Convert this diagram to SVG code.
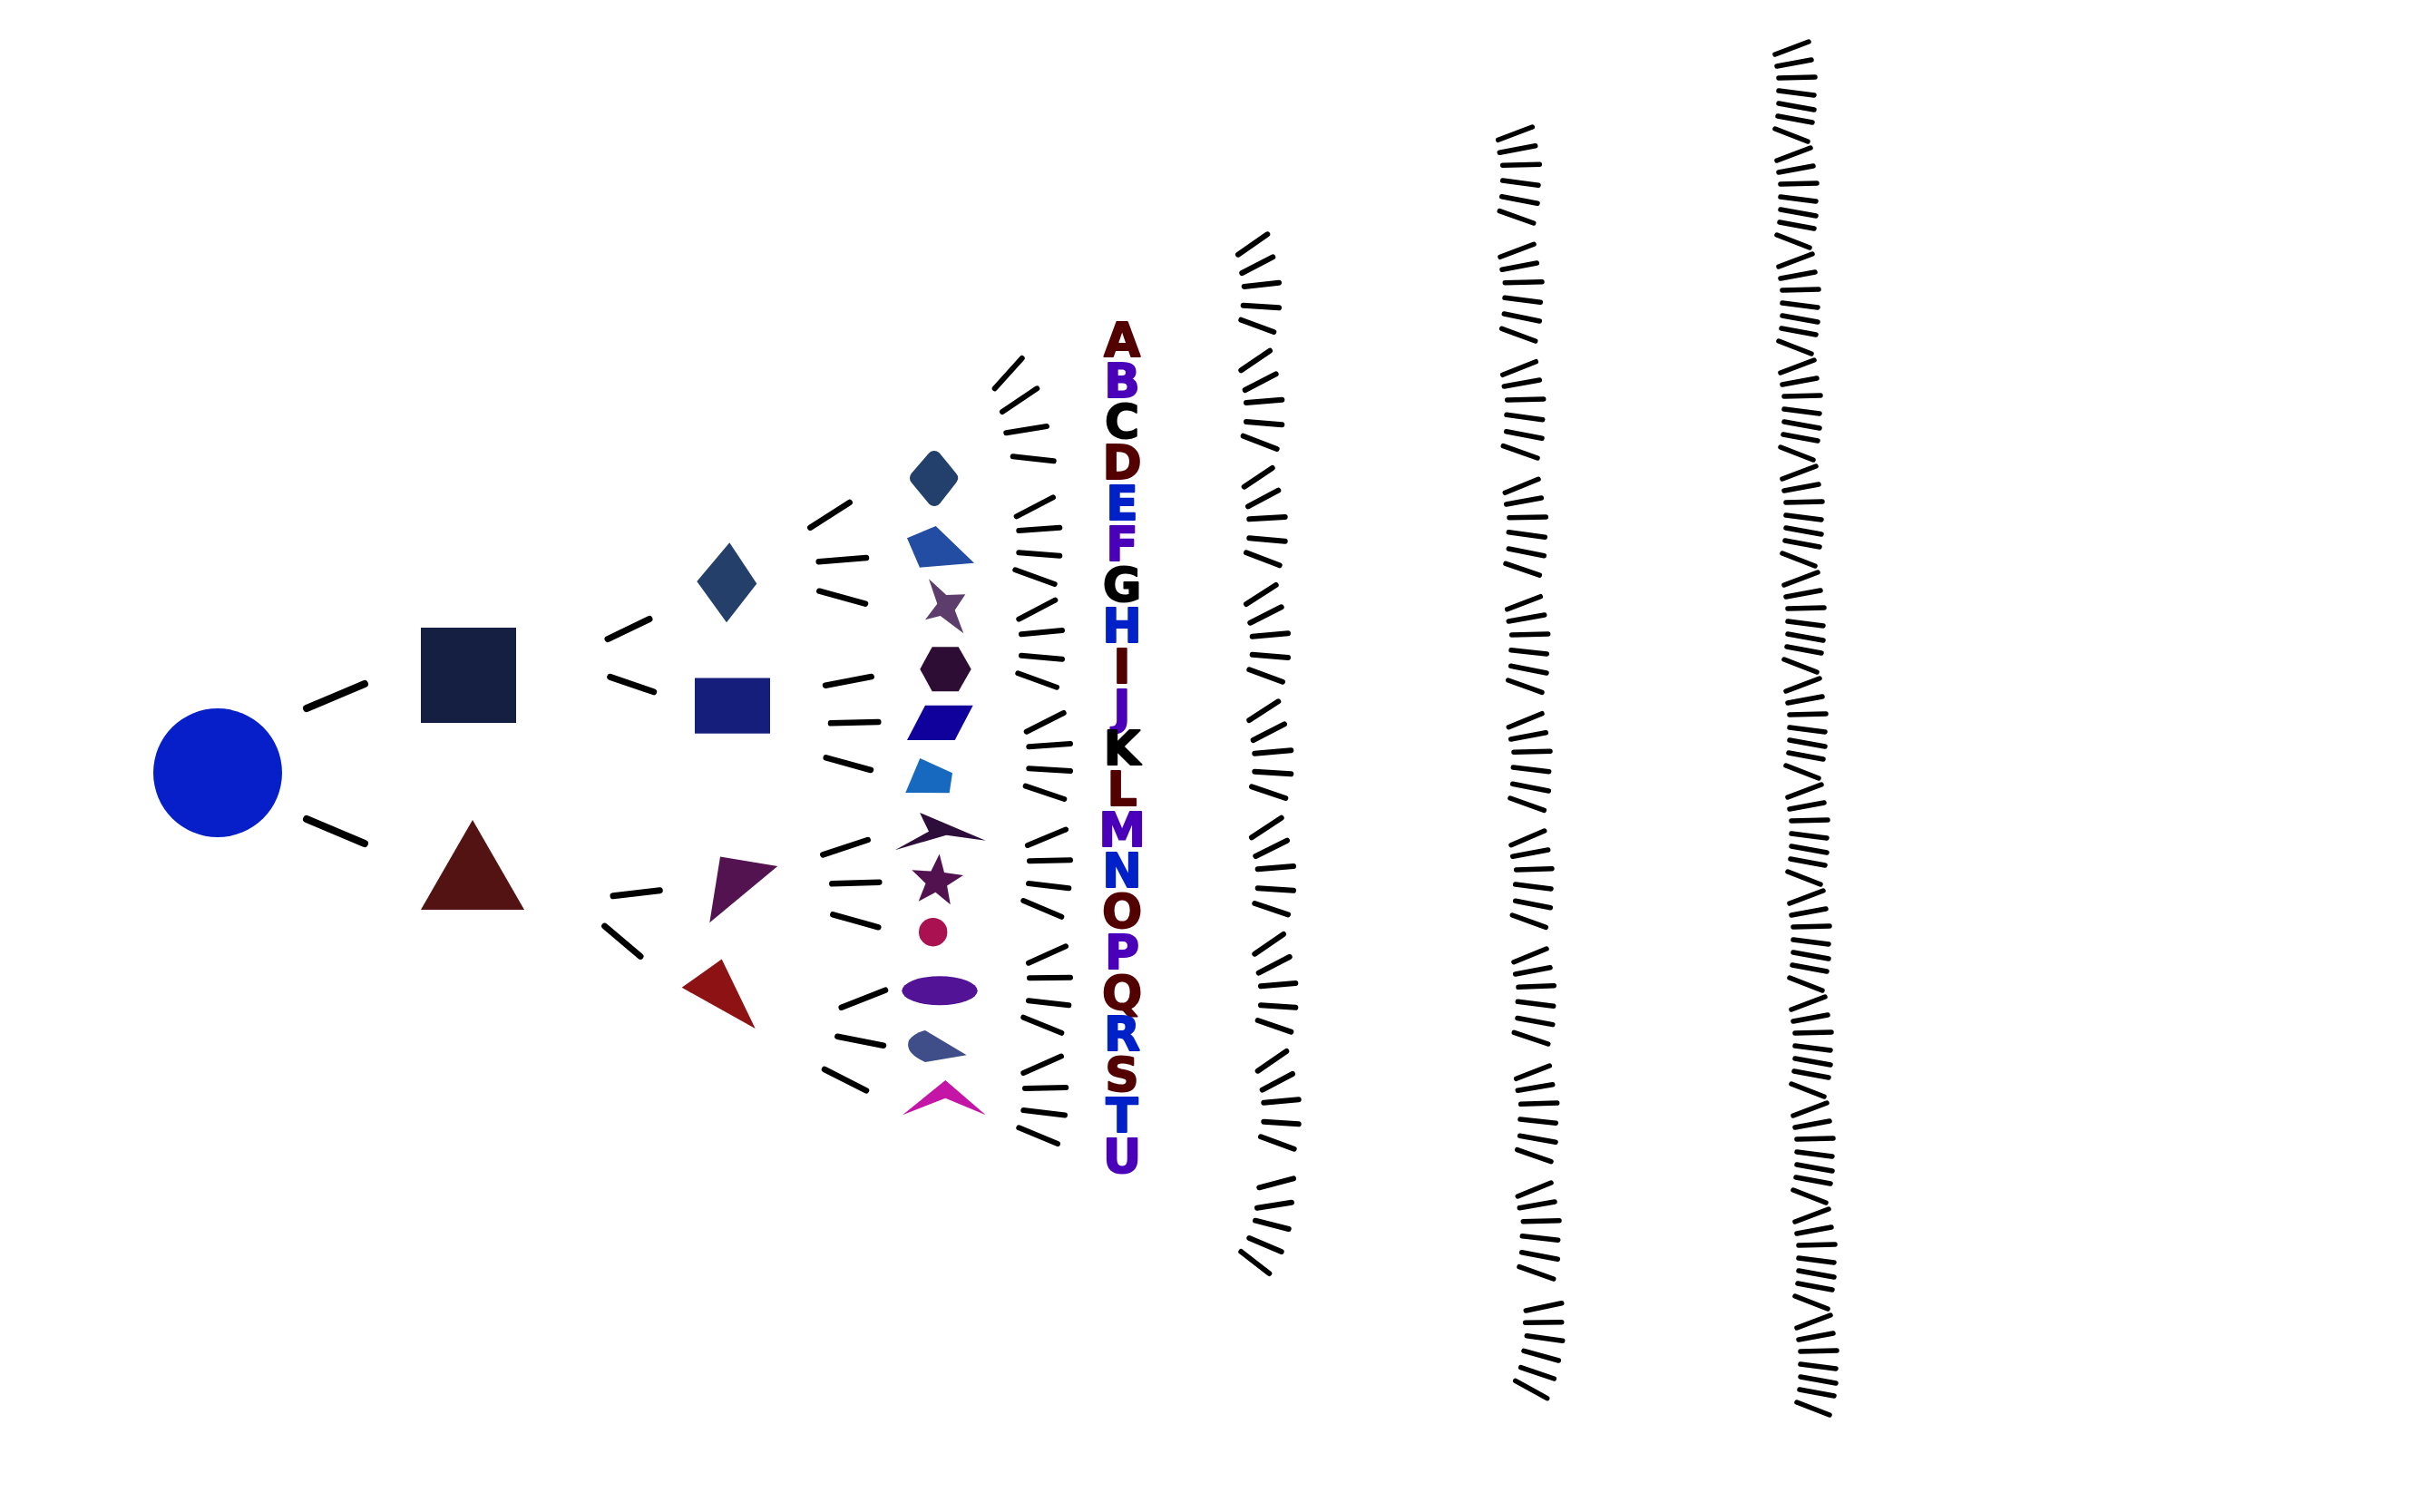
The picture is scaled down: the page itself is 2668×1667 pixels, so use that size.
<svg xmlns="http://www.w3.org/2000/svg" width="2668" height="1667" viewBox="0 0 2668 1667">
<style>
.e{stroke:#000;stroke-linecap:round;fill:none}
.c1{stroke-width:8}.c2{stroke-width:7}.c3{stroke-width:6.5}.c4{stroke-width:6}.c5{stroke-width:6}.c6{stroke-width:5.5}.c7{stroke-width:5.5}
.lt{font-family:"DejaVu Sans","Liberation Sans",sans-serif;font-weight:bold;font-size:52px;text-anchor:middle;fill:currentColor;stroke:currentColor;stroke-width:1.8;stroke-linejoin:round}
</style>
<defs>
<g id="g7">
<line x1="0" y1="0" x2="37" y2="-14"/>
<line x1="2" y1="13" x2="40" y2="6"/>
<line x1="4" y1="26" x2="44" y2="25"/>
<line x1="4" y1="40" x2="43" y2="45"/>
<line x1="4" y1="54" x2="43" y2="61"/>
<line x1="3" y1="68" x2="41" y2="75"/>
<line x1="0" y1="82" x2="36" y2="96"/>
</g>
</defs>
<rect width="2668" height="1667" fill="#fff"/>
<g id="connectors">
<g class="e c1">
<line x1="338" y1="781" x2="402" y2="754"/>
<line x1="338" y1="903" x2="402" y2="930"/>
</g>
<g class="e c2">
<line x1="670" y1="704.6" x2="716" y2="682.5"/>
<line x1="672.7" y1="746.4" x2="720.7" y2="762.8"/>
<line x1="676" y1="987.8" x2="727.3" y2="981.7"/>
<line x1="666.7" y1="1021.1" x2="706" y2="1054.4"/>
</g>
<g class="e c3">
<line x1="893.3" y1="581.7" x2="936.7" y2="554"/>
<line x1="902.7" y1="619.3" x2="955" y2="615"/>
<line x1="903.3" y1="651.7" x2="954" y2="665.7"/>
<line x1="910" y1="755.7" x2="960.7" y2="746"/>
<line x1="916" y1="797.3" x2="968.3" y2="796"/>
<line x1="910.7" y1="835.3" x2="960" y2="849"/>
<line x1="907.3" y1="942.3" x2="956.7" y2="926"/>
<line x1="917.3" y1="974.3" x2="969.3" y2="972.7"/>
<line x1="918.3" y1="1008.3" x2="968.3" y2="1022.3"/>
<line x1="927.7" y1="1110.7" x2="976" y2="1091.7"/>
<line x1="923.3" y1="1142.7" x2="974" y2="1152.7"/>
<line x1="909" y1="1179" x2="955" y2="1202.3"/>
</g>
<g class="e c4">
<line x1="1096.7" y1="428.3" x2="1126.7" y2="395"/>
<line x1="1105" y1="454" x2="1143.3" y2="428.3"/>
<line x1="1109.3" y1="477.3" x2="1154" y2="470"/>
<line x1="1116.7" y1="503.3" x2="1161.7" y2="508.3"/>
<line x1="1120.7" y1="569.3" x2="1161" y2="548.3"/>
<line x1="1123.3" y1="585" x2="1168.3" y2="581.7"/>
<line x1="1123.3" y1="609.3" x2="1168.3" y2="612.7"/>
<line x1="1119.3" y1="628.3" x2="1162.7" y2="644"/>
<line x1="1123.3" y1="682.7" x2="1163.3" y2="661.7"/>
<line x1="1126" y1="699.3" x2="1171" y2="695"/>
<line x1="1126" y1="722.7" x2="1171" y2="726.7"/>
<line x1="1122.3" y1="742.3" x2="1165" y2="757.7"/>
<line x1="1131.7" y1="806.7" x2="1172.7" y2="786"/>
<line x1="1134.3" y1="823.3" x2="1180" y2="820"/>
<line x1="1134.3" y1="847.3" x2="1180" y2="850"/>
<line x1="1130.7" y1="866.7" x2="1173.3" y2="881"/>
<line x1="1133" y1="932" x2="1175" y2="914.5"/>
<line x1="1135" y1="949.3" x2="1180" y2="948.3"/>
<line x1="1134" y1="974" x2="1178.3" y2="979.3"/>
<line x1="1128.3" y1="993" x2="1170.3" y2="1010.8"/>
<line x1="1134" y1="1061.7" x2="1175" y2="1043.3"/>
<line x1="1135" y1="1078.3" x2="1180" y2="1077.7"/>
<line x1="1134" y1="1103.3" x2="1178.3" y2="1108.3"/>
<line x1="1128.3" y1="1121.7" x2="1170.3" y2="1138.8"/>
<line x1="1128.3" y1="1183" x2="1170" y2="1164.6"/>
<line x1="1130" y1="1200" x2="1175.3" y2="1199"/>
<line x1="1128.3" y1="1224" x2="1174" y2="1229.6"/>
<line x1="1123.3" y1="1243.3" x2="1166" y2="1261"/>
</g>
<g class="e c5">
<line x1="1365" y1="280.7" x2="1397.3" y2="258.3"/>
<line x1="1369.3" y1="301" x2="1403.3" y2="283.3"/>
<line x1="1371.7" y1="316" x2="1410" y2="311.7"/>
<line x1="1370.7" y1="336.7" x2="1410" y2="339.3"/>
<line x1="1368.3" y1="352.7" x2="1404.3" y2="366"/>
<line x1="1368.3" y1="408.3" x2="1400" y2="386.7"/>
<line x1="1372.7" y1="430" x2="1406.7" y2="412.3"/>
<line x1="1374" y1="444" x2="1413.3" y2="440.7"/>
<line x1="1374" y1="465" x2="1413.3" y2="468.3"/>
<line x1="1370.7" y1="480.7" x2="1407.7" y2="495"/>
<line x1="1371.7" y1="536.7" x2="1402.7" y2="516"/>
<line x1="1376" y1="558.3" x2="1409.3" y2="540.7"/>
<line x1="1377.3" y1="572.3" x2="1416.7" y2="570"/>
<line x1="1377.3" y1="593.3" x2="1416.7" y2="596.7"/>
<line x1="1374" y1="609.3" x2="1410.7" y2="623.3"/>
<line x1="1374" y1="666" x2="1406.7" y2="645"/>
<line x1="1378.3" y1="686.7" x2="1412.7" y2="669.3"/>
<line x1="1380.7" y1="701.7" x2="1420" y2="698.3"/>
<line x1="1380.7" y1="721.7" x2="1420" y2="725"/>
<line x1="1377.3" y1="738.3" x2="1414" y2="751.7"/>
<line x1="1377.3" y1="794" x2="1409.3" y2="773.3"/>
<line x1="1381.7" y1="816" x2="1416" y2="798.3"/>
<line x1="1383.3" y1="830.7" x2="1423.3" y2="827.3"/>
<line x1="1383.3" y1="850.7" x2="1423.3" y2="853.3"/>
<line x1="1380" y1="867.3" x2="1417.3" y2="880"/>
<line x1="1380" y1="923.3" x2="1412.7" y2="901.7"/>
<line x1="1384.3" y1="944" x2="1419" y2="926.7"/>
<line x1="1386.7" y1="958.3" x2="1426" y2="955"/>
<line x1="1386.7" y1="979.3" x2="1426" y2="981.7"/>
<line x1="1383.3" y1="996" x2="1420" y2="1008.3"/>
<line x1="1383.3" y1="1051.7" x2="1415" y2="1030"/>
<line x1="1387.7" y1="1072.7" x2="1421.7" y2="1055"/>
<line x1="1390" y1="1087.3" x2="1428.3" y2="1084"/>
<line x1="1390" y1="1108.3" x2="1428.3" y2="1110.7"/>
<line x1="1386.7" y1="1125" x2="1423.3" y2="1137.7"/>
<line x1="1386.7" y1="1180.7" x2="1418.3" y2="1159"/>
<line x1="1391.7" y1="1201.7" x2="1425" y2="1184"/>
<line x1="1393.3" y1="1215.7" x2="1431.7" y2="1212.3"/>
<line x1="1393.3" y1="1236.7" x2="1431.7" y2="1239.3"/>
<line x1="1390" y1="1253.3" x2="1426.7" y2="1266.7"/>
<line x1="1388.3" y1="1309.3" x2="1426" y2="1299.3"/>
<line x1="1386" y1="1331.7" x2="1424" y2="1325.7"/>
<line x1="1384" y1="1345.7" x2="1420.7" y2="1355"/>
<line x1="1377.3" y1="1365" x2="1412.7" y2="1380"/>
<line x1="1368.3" y1="1380" x2="1399.3" y2="1404"/>
</g>
<g class="e c6">
<line x1="1651.7" y1="154.3" x2="1689.3" y2="140"/>
<line x1="1653.3" y1="168.3" x2="1692.7" y2="160.7"/>
<line x1="1656.7" y1="182.3" x2="1697.3" y2="181.3"/>
<line x1="1656.7" y1="199" x2="1696" y2="204.3"/>
<line x1="1655.7" y1="216.7" x2="1695" y2="224.3"/>
<line x1="1653.3" y1="232.7" x2="1690.7" y2="246"/>
<line x1="1654" y1="283.3" x2="1691" y2="269.3"/>
<line x1="1656" y1="297.3" x2="1694.3" y2="290"/>
<line x1="1659.3" y1="311.7" x2="1700" y2="310.7"/>
<line x1="1659" y1="328.3" x2="1698.3" y2="333.3"/>
<line x1="1658.3" y1="346" x2="1697.3" y2="354"/>
<line x1="1655.7" y1="362.3" x2="1692.7" y2="376"/>
<line x1="1656.7" y1="413.3" x2="1693.3" y2="398.7"/>
<line x1="1658.3" y1="426" x2="1697.3" y2="419"/>
<line x1="1661.7" y1="441" x2="1701.7" y2="440"/>
<line x1="1661" y1="457.3" x2="1700.7" y2="462.7"/>
<line x1="1660.7" y1="475.7" x2="1700" y2="483.3"/>
<line x1="1657.3" y1="491.7" x2="1695" y2="505"/>
<line x1="1659.3" y1="543.3" x2="1696" y2="528.3"/>
<line x1="1660.7" y1="556" x2="1699.3" y2="549"/>
<line x1="1664" y1="570.7" x2="1704.3" y2="570"/>
<line x1="1663.3" y1="586.7" x2="1703.3" y2="592.3"/>
<line x1="1663.3" y1="605" x2="1702.3" y2="612.7"/>
<line x1="1660" y1="621.3" x2="1697.3" y2="634.2"/>
<line x1="1661.7" y1="671.7" x2="1698.3" y2="657.7"/>
<line x1="1663.3" y1="685" x2="1702.7" y2="678"/>
<line x1="1666.7" y1="700" x2="1706.7" y2="699"/>
<line x1="1666" y1="716.7" x2="1705.3" y2="721"/>
<line x1="1665.7" y1="734.3" x2="1705" y2="742"/>
<line x1="1662.7" y1="750" x2="1700" y2="763.3"/>
<line x1="1663.3" y1="801.7" x2="1700" y2="786.7"/>
<line x1="1665.7" y1="815" x2="1704.3" y2="807.7"/>
<line x1="1669" y1="829.3" x2="1709" y2="828.3"/>
<line x1="1668.3" y1="846" x2="1707.7" y2="850.7"/>
<line x1="1667.7" y1="864.3" x2="1707.3" y2="872"/>
<line x1="1665" y1="880" x2="1702.3" y2="893.3"/>
<line x1="1666" y1="931.7" x2="1702.7" y2="916"/>
<line x1="1667.7" y1="944.3" x2="1706.7" y2="937"/>
<line x1="1671.7" y1="959" x2="1711" y2="957.7"/>
<line x1="1670.7" y1="975" x2="1710" y2="980"/>
<line x1="1670.7" y1="993.3" x2="1709.3" y2="1000.7"/>
<line x1="1667.3" y1="1009" x2="1704.3" y2="1022.3"/>
<line x1="1669" y1="1060.7" x2="1705" y2="1046"/>
<line x1="1670.7" y1="1074" x2="1709" y2="1066.7"/>
<line x1="1674" y1="1088.3" x2="1713.3" y2="1086.7"/>
<line x1="1673.3" y1="1104.3" x2="1712.7" y2="1109.3"/>
<line x1="1673" y1="1122.5" x2="1711.8" y2="1129.6"/>
<line x1="1669.3" y1="1138.3" x2="1706.7" y2="1151"/>
<line x1="1671.7" y1="1189.3" x2="1708.3" y2="1175"/>
<line x1="1673.3" y1="1202.3" x2="1711.7" y2="1195.7"/>
<line x1="1676.7" y1="1217.3" x2="1716.7" y2="1216"/>
<line x1="1676" y1="1234" x2="1715.3" y2="1238.3"/>
<line x1="1675.7" y1="1252.3" x2="1715" y2="1259.3"/>
<line x1="1672.7" y1="1267.7" x2="1710" y2="1280.7"/>
<line x1="1673.3" y1="1319" x2="1710" y2="1304"/>
<line x1="1675.3" y1="1331.7" x2="1714" y2="1325"/>
<line x1="1679.3" y1="1346.7" x2="1719" y2="1345.7"/>
<line x1="1678.3" y1="1362.7" x2="1717.7" y2="1367.3"/>
<line x1="1677.7" y1="1380.7" x2="1717.3" y2="1388.3"/>
<line x1="1675" y1="1396.7" x2="1712.7" y2="1410"/>
<line x1="1682.3" y1="1445" x2="1721.7" y2="1436.7"/>
<line x1="1681.7" y1="1458.3" x2="1721.7" y2="1457.7"/>
<line x1="1683.3" y1="1472.7" x2="1722.7" y2="1478.3"/>
<line x1="1680" y1="1489.3" x2="1718.3" y2="1500"/>
<line x1="1676.7" y1="1507.7" x2="1713.3" y2="1520"/>
<line x1="1670.7" y1="1522.3" x2="1705.7" y2="1541.7"/>
</g>
<g class="e c7">
<use href="#g7" x="1957" y="60"/>
<use href="#g7" x="1959" y="177"/>
<use href="#g7" x="1961" y="294"/>
<use href="#g7" x="1963" y="411"/>
<use href="#g7" x="1965" y="528"/>
<use href="#g7" x="1967" y="645"/>
<use href="#g7" x="1969" y="762"/>
<use href="#g7" x="1971" y="879"/>
<use href="#g7" x="1973" y="996"/>
<use href="#g7" x="1975" y="1113"/>
<use href="#g7" x="1977" y="1230"/>
<use href="#g7" x="1979" y="1347"/>
<use href="#g7" x="1981" y="1464"/>
</g>
</g>
<g id="n-root"><circle cx="240" cy="852" r="71" fill="#071fc8"/></g>
<g id="n-square"><rect x="464" y="692" width="105" height="105" fill="#141f42"/></g>
<g id="n-triangle"><polygon points="464,1003 521,904 578,1003" fill="#531313"/></g>
<g id="n-diamond"><polygon points="804.3,598.3 834.3,643.4 801,686.3 768.3,641.1" fill="#233f6a"/></g>
<g id="n-rect"><rect x="766" y="747.5" width="83" height="61.2" fill="#151f7b"/></g>
<g id="n-purpletri"><polygon points="794,944.6 857.3,954.9 782.3,1017.3" fill="#521350"/></g>
<g id="n-redtri"><polygon points="795.7,1057.5 832.7,1134 751.7,1088.8" fill="#8c1214"/></g>
<g id="n-rdiamond"><polygon points="1030,505 1048,527 1030,550 1011,527" fill="#22406b" stroke="#22406b" stroke-width="16" stroke-linejoin="round"/></g>
<g id="n-quad"><polygon points="1000,593.3 1031.7,580 1074,620.7 1014,625.7" fill="#234da3"/></g>
<g id="n-star4"><polygon points="1024,638.3 1043.3,656 1064.3,655.3 1052.7,672.7 1062.3,698.3 1036.7,679 1020,683.3 1033.3,665.7" fill="#5c3d6b"/></g>
<g id="n-hexagon"><polygon points="1027.7,713.3 1056.7,713.3 1070.7,737.7 1056.7,762.3 1027.7,762.3 1014.3,737.7" fill="#2e0d35"/></g>
<g id="n-parallelogram"><polygon points="1020,777.7 1072.7,777.7 1052.7,816 1000,816" fill="#10009c"/></g>
<g id="n-quad2"><polygon points="1014.3,836 1050,852.3 1046.7,874.3 998.3,874" fill="#1669bf"/></g>
<g id="n-arrow"><polygon points="1014,896 1086.7,926.7 1043.3,920.7 986.7,937.3 1024,916.7" fill="#2d0e3b"/></g>
<g id="n-star5"><polygon points="1035.7,941.5 1041,962.1 1062,965.1 1044.1,976.4 1047.8,997.3 1031.4,983.8 1012.7,993.8 1020.5,974 1005.3,959.3 1026.4,960.6" fill="#52114f"/></g>
<g id="n-dot"><circle cx="1028.7" cy="1027.7" r="15.7" fill="#aa1150"/></g>
<g id="n-ellipse"><ellipse cx="1036" cy="1092.3" rx="41.7" ry="16" fill="#521396"/></g>
<g id="n-blob"><path d="M1020,1136 L1065.7,1163.3 L1020,1171 Q997,1161 1002,1147 Q1008,1139 1020,1136 Z" fill="#3f4e88"/></g>
<g id="n-chevron"><polygon points="1042.3,1191 1086.7,1229.3 1042.3,1210.7 995,1229.3" fill="#c415a6"/></g>
<g id="n-A"><text class="lt" x="1237" y="393" color="#530000">A</text></g>
<g id="n-B"><text class="lt" x="1237" y="438" color="#4a00b8">B</text></g>
<g id="n-C"><text class="lt" x="1237" y="483" color="#000">C</text></g>
<g id="n-D"><text class="lt" x="1237" y="528" color="#530000">D</text></g>
<g id="n-E"><text class="lt" x="1237" y="573" color="#0020c8">E</text></g>
<g id="n-F"><text class="lt" x="1237" y="618" color="#4a00b8">F</text></g>
<g id="n-G"><text class="lt" x="1237" y="663" color="#000">G</text></g>
<g id="n-H"><text class="lt" x="1237" y="708" color="#0020c8">H</text></g>
<g id="n-I"><text class="lt" x="1237" y="753" color="#530000">I</text></g>
<g id="n-J"><text class="lt" x="1237" y="798" color="#4a00b8">J</text></g>
<g id="n-K"><text class="lt" x="1237" y="843" color="#000">K</text></g>
<g id="n-L"><text class="lt" x="1237" y="888" color="#530000">L</text></g>
<g id="n-M"><text class="lt" x="1237" y="933" color="#4a00b8">M</text></g>
<g id="n-N"><text class="lt" x="1237" y="978" color="#0020c8">N</text></g>
<g id="n-O"><text class="lt" x="1237" y="1023" color="#530000">O</text></g>
<g id="n-P"><text class="lt" x="1237" y="1068" color="#4a00b8">P</text></g>
<g id="n-Q"><text class="lt" x="1237" y="1113" color="#530000">Q</text></g>
<g id="n-R"><text class="lt" x="1237" y="1158" color="#0020c8">R</text></g>
<g id="n-S"><text class="lt" x="1237" y="1203" color="#530000">S</text></g>
<g id="n-T"><text class="lt" x="1237" y="1248" color="#0020c8">T</text></g>
<g id="n-U"><text class="lt" x="1237" y="1293" color="#4a00b8">U</text></g>
</svg>
